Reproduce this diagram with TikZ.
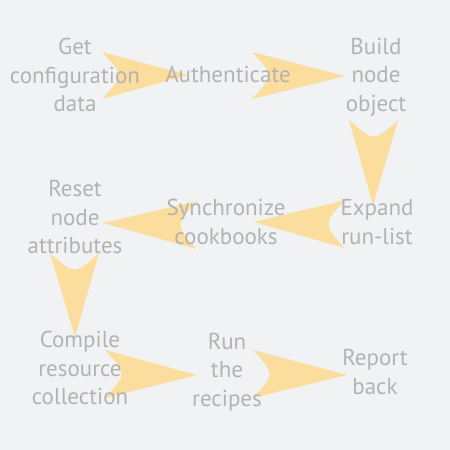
\documentclass[tikz,border=0pt]{standalone}
\usepackage{fontspec}
\setmainfont{PT Sans}
\usetikzlibrary{calc}
\definecolor{bgc}{HTML}{F1F2F3}
\definecolor{dartc}{HTML}{FBDE9D}
\definecolor{txtc}{HTML}{B3B3B3}
\tikzset{
  lbl/.style={text=txtc, align=center, font=\fontsize{23pt}{28.5pt}\selectfont, inner sep=0pt},
}
% dart from tail coordinate #1 to tip coordinate #2, half width #3
\newcommand{\dartshape}[3]{%
  \fill[dartc] ($(#1)!#3!90:(#2)$) coordinate (dA) -- (#2) -- ($(#1)!#3!-90:(#2)$) coordinate (dB)
     .. controls ($(#1)!22pt!(#2)$) .. (dA) -- cycle;
}
\begin{document}
\begin{tikzpicture}[x=1pt,y=-1pt]
\fill[bgc] (0,0) rectangle (450,450);
\useasboundingbox (0,0) rectangle (450,450);
% arrow coordinates
\coordinate (t1) at (102,75.5); \coordinate (h1) at (188,75);
\coordinate (t2) at (252,75.5); \coordinate (h2) at (345,76);
\coordinate (t3) at (373.5,120); \coordinate (h3) at (373,205);
\coordinate (t4) at (345,224); \coordinate (h4) at (254,222);
\coordinate (t5) at (197,225); \coordinate (h5) at (103,223);
\coordinate (t6) at (74.5,253); \coordinate (h6) at (75,337);
\coordinate (t7) at (105,374); \coordinate (h7) at (197,375);
\coordinate (t8) at (253,374); \coordinate (h8) at (347,375);
\dartshape{t1}{h1}{23.5pt}
\dartshape{t2}{h2}{23.5pt}
\dartshape{t3}{h3}{24.5pt}
\dartshape{t4}{h4}{24pt}
\dartshape{t5}{h5}{24pt}
\dartshape{t6}{h6}{24.5pt}
\dartshape{t7}{h7}{24pt}
\dartshape{t8}{h8}{24pt}
% labels
\node[lbl] (get) at (75,75) {Get\\configuration\\data};
\node[lbl] (auth) at (228,74) {Authenticate};
\node[lbl] (build) at (376,77) {Build\\node\\object};
\node[lbl] (expand) at (377,222) {Expand\\run-list};
\node[lbl] (sync) at (226,222) {Synchronize\\cookbooks};
\node[lbl] (reset) at (75,217) {Reset\\node\\attributes};
\node[lbl] (compile) at (80,368) {Compile\\resource\\collection};
\node[lbl] (run) at (227,372) {Run\\the\\recipes};
\node[lbl] (report) at (375,372) {Report\\back};
\end{tikzpicture}
\end{document}
